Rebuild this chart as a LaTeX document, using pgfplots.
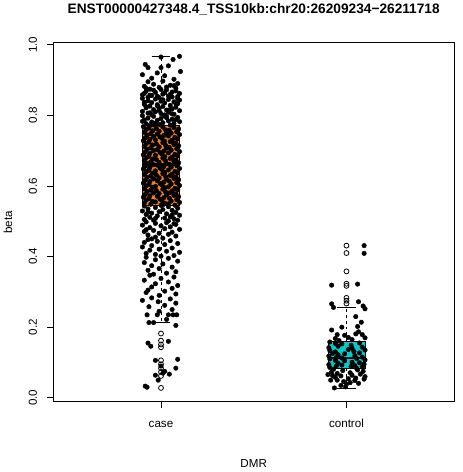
\documentclass[border=0pt]{standalone}
\usepackage{fontspec}
\setmainfont{Liberation Sans}
\usepackage{pgfplots}
\pgfplotsset{compat=1.18}
\usepackage{pgfplotstable}
\definecolor{boxorange}{RGB}{248,128,24}
\definecolor{boxcyan}{RGB}{0,205,205}

% jittered case points
\pgfplotstableread{
x y
1.00 0.965
1.10 0.967
1.065 0.958
0.915 0.944
0.93 0.935
1.00 0.935
1.105 0.924
1.04 0.94
0.98 0.92
0.90 0.915
1.02 0.912
0.95 0.905
1.07 0.902
0.93 0.895
1.01 0.897
1.09 0.89
0.96 0.888
1.05 0.885
0.91 0.882
0.99 0.879
1.08 0.877
0.94 0.874
1.03 0.872
0.92 0.868
1.06 0.866
0.97 0.865
1.10 0.862
1.01 0.86
0.90 0.858
0.95 0.856
1.04 0.855
1.09 0.853
0.93 0.851
0.99 0.85
1.07 0.884
0.96 0.871
1.02 0.864
0.92 0.876
1.05 0.859
0.98 0.854
1.08 0.869
0.91 0.862
1.00 0.873
1.03 0.88
0.94 0.857
1.06 0.852
0.90 0.848
0.97 0.846
1.04 0.845
1.10 0.843
0.93 0.841
1.00 0.84
1.07 0.838
0.95 0.836
1.02 0.835
1.09 0.833
0.91 0.831
0.98 0.83
1.05 0.828
0.94 0.826
1.01 0.825
1.08 0.823
0.92 0.821
0.99 0.82
1.06 0.818
0.96 0.816
1.03 0.815
1.10 0.813
0.90 0.811
0.97 0.81
1.04 0.808
0.93 0.806
1.00 0.805
1.07 0.803
0.95 0.802
1.02 0.801
1.09 0.847
0.91 0.837
0.98 0.827
1.05 0.817
0.94 0.807
1.01 0.844
1.08 0.834
0.92 0.824
0.99 0.814
1.06 0.804
0.90 0.799
0.96 0.797
1.03 0.796
1.09 0.794
0.93 0.792
1.00 0.791
1.06 0.789
0.91 0.787
0.98 0.786
1.04 0.784
1.10 0.782
0.95 0.781
1.01 0.779
1.07 0.777
0.92 0.776
0.99 0.774
1.05 0.772
0.94 0.771
1.02 0.798
1.08 0.788
0.97 0.778
0.90 0.783
1.03 0.793
0.96 0.773
0.905 0.768
1.01 0.7667
1.07 0.7653
0.935 0.764
0.975 0.7627
1.095 0.7613
0.92 0.760
1.025 0.7587
1.045 0.7573
0.955 0.756
0.99 0.7547
1.085 0.7533
0.91 0.752
1.03 0.7507
1.055 0.7493
0.945 0.748
0.98 0.7467
1.10 0.7453
0.925 0.744
1.015 0.7427
1.04 0.7413
0.96 0.740
0.995 0.7387
1.075 0.7373
0.915 0.736
1.005 0.7347
1.09 0.7333
0.94 0.732
0.97 0.7307
1.06 0.7293
0.905 0.728
1.02 0.7267
1.05 0.7253
0.935 0.724
1.01 0.7227
1.08 0.7213
0.92 0.720
0.975 0.7187
1.07 0.7173
0.955 0.716
1.025 0.7147
1.095 0.7133
0.91 0.712
0.99 0.7107
1.045 0.7093
0.945 0.708
1.03 0.7067
1.085 0.7053
0.925 0.704
0.98 0.7027
1.055 0.7013
0.96 0.700
1.015 0.6987
1.10 0.6973
0.915 0.696
0.995 0.6947
1.04 0.6933
0.94 0.692
1.005 0.6907
1.075 0.6893
0.905 0.688
0.97 0.6867
1.09 0.6853
0.935 0.684
1.02 0.6827
1.06 0.6813
0.92 0.680
1.01 0.6787
1.05 0.6773
0.955 0.676
0.975 0.6747
1.08 0.6733
0.91 0.672
1.025 0.6707
1.07 0.6693
0.945 0.668
0.99 0.6667
1.095 0.6653
0.925 0.664
1.03 0.6627
1.045 0.6613
0.96 0.660
0.98 0.6587
1.085 0.6573
0.915 0.656
1.015 0.6547
1.055 0.6533
0.94 0.652
0.995 0.6507
1.10 0.6493
0.905 0.648
1.005 0.6467
1.04 0.6453
0.935 0.644
0.97 0.6427
1.075 0.6413
0.92 0.640
1.02 0.6387
1.09 0.6373
0.955 0.636
1.01 0.6347
1.06 0.6333
0.91 0.632
0.975 0.6307
1.05 0.6293
0.945 0.628
1.025 0.6267
1.08 0.6253
0.925 0.624
0.99 0.6227
1.07 0.6213
0.96 0.620
1.03 0.6187
1.095 0.6173
0.915 0.616
0.98 0.6147
1.045 0.6133
0.94 0.612
1.015 0.6107
1.085 0.6093
0.905 0.608
0.995 0.6067
1.055 0.6053
0.935 0.604
1.005 0.6027
1.10 0.6013
0.92 0.600
0.97 0.5987
1.04 0.5973
0.955 0.596
1.02 0.5947
1.075 0.5933
0.91 0.592
1.01 0.5907
1.09 0.5893
0.945 0.588
0.975 0.5867
1.06 0.5853
0.925 0.584
1.025 0.5827
1.05 0.5813
0.96 0.580
0.99 0.5787
1.08 0.5773
0.915 0.576
1.03 0.5747
1.07 0.5733
0.94 0.572
0.98 0.5707
1.095 0.5693
0.905 0.568
1.015 0.5667
1.045 0.5653
0.935 0.564
0.995 0.5627
1.085 0.5613
0.92 0.560
1.005 0.5587
1.055 0.5573
0.955 0.556
0.97 0.5547
1.10 0.5533
0.91 0.552
1.02 0.5507
1.04 0.5493
0.945 0.548
1.01 0.5467
1.075 0.5453
0.91 0.543
1.04 0.541
0.97 0.539
1.09 0.537
0.93 0.535
1.01 0.533
1.06 0.531
0.90 0.529
0.99 0.527
1.08 0.525
0.95 0.523
1.03 0.521
0.92 0.519
1.10 0.517
0.98 0.515
1.05 0.513
0.94 0.511
1.02 0.509
1.07 0.507
0.91 0.505
0.96 0.503
1.04 0.501
1.00 0.545
0.93 0.526
1.06 0.518
0.97 0.508
1.09 0.503
0.92 0.498
1.03 0.496
0.97 0.494
1.08 0.491
0.90 0.489
1.00 0.487
1.05 0.484
0.94 0.482
1.02 0.479
1.10 0.477
0.96 0.474
0.91 0.471
1.06 0.469
0.99 0.466
1.04 0.463
0.93 0.461
1.08 0.458
0.97 0.455
1.01 0.452
0.95 0.45
1.07 0.493
0.92 0.476
0.93 0.448
1.05 0.445
0.98 0.443
0.91 0.44
1.09 0.437
1.02 0.434
0.95 0.431
0.90 0.427
1.06 0.424
0.99 0.421
0.94 0.418
1.03 0.415
1.10 0.412
0.92 0.409
0.97 0.406
1.07 0.403
1.00 0.401
0.92 0.398
1.04 0.395
0.97 0.391
1.09 0.387
0.91 0.383
1.01 0.379
0.95 0.374
1.06 0.37
0.99 0.366
0.93 0.361
1.08 0.357
1.03 0.353
0.96 0.35
0.94 0.347
1.07 0.342
1.00 0.338
0.91 0.333
1.04 0.328
0.97 0.323
1.09 0.318
0.95 0.314
1.06 0.31
0.93 0.305
1.02 0.302
0.92 0.298
1.08 0.294
0.99 0.29
0.95 0.283
1.05 0.28
0.90 0.276
0.985 0.272
1.08 0.268
1.02 0.262
0.935 0.258
0.99 0.245
1.06 0.25
0.925 0.235
0.98 0.235
1.04 0.235
1.065 0.235
1.085 0.235
1.03 0.222
0.935 0.213
0.96 0.213
1.08 0.205
0.93 0.155
0.945 0.146
1.04 0.16
0.97 0.106
1.09 0.109
1.08 0.084
0.97 0.064
0.985 0.05
1.01 0.07
1.045 0.067
0.925 0.03
0.915 0.033
1.00 0.09
1.02 0.075
}\casepts

% jittered control points
\pgfplotstableread{
x y
2.095 0.431
2.095 0.409
1.92 0.319
2.06 0.322
1.92 0.266
2.065 0.272
2.09 0.26
1.93 0.256
2.10 0.252
2.05 0.23
2.06 0.202
1.95 0.179
1.99 0.177
2.05 0.181
2.065 0.187
2.085 0.179
2.03 0.165
1.92 0.192
2.08 0.214
1.975 0.2
2.01 0.171
1.94 0.168
2.10 0.17
1.96 0.162
1.91 0.158
2.07 0.1553
1.94 0.154
1.975 0.1527
2.025 0.1487
1.955 0.146
2.085 0.1433
1.905 0.142
2.03 0.1407
2.01 0.1367
2.10 0.1353
1.91 0.134
2.04 0.1313
1.94 0.130
2.07 0.1273
1.925 0.126
1.99 0.1247
1.955 0.122
2.045 0.1193
1.905 0.118
2.085 0.1153
1.945 0.114
1.975 0.1127
2.055 0.1113
1.91 0.110
2.10 0.1073
1.94 0.106
1.99 0.1047
2.03 0.1007
2.07 0.0993
1.955 0.098
2.095 0.0953
1.905 0.094
1.975 0.0927
2.045 0.0913
1.945 0.090
2.025 0.0887
2.085 0.0873
1.91 0.086
2.055 0.0833
1.93 0.081
2.06 0.079
1.98 0.077
2.09 0.075
1.92 0.073
2.02 0.071
1.95 0.069
2.075 0.067
2.03 0.064
1.90 0.066
1.97 0.062
2.10 0.06
1.94 0.058
2.05 0.056
2.01 0.054
2.095 0.053
1.915 0.05
1.95 0.05
2.045 0.049
1.985 0.046
2.02 0.043
2.00 0.039
1.97 0.035
1.995 0.031
1.935 0.028
2.065 0.041
1.925 0.063
}\controlpts

\begin{document}
\begin{tikzpicture}
\begin{axis}[
  scale only axis, width=405bp, height=363bp,
  xmin=0.42, xmax=2.58, ymin=-0.0112, ymax=1.0056,
  xtick={1,2}, xticklabels={case,control},
  ytick={0,0.2,0.4,0.6,0.8,1},
  /pgf/number format/fixed, /pgf/number format/fixed zerofill, /pgf/number format/precision=1,
  /pgf/number format/assume math mode=true,
  tick pos=left, tick align=outside, major tick length=6.5bp,
  tick style={black, line width=0.8bp},
  axis line style={line width=0.8bp},
  tick label style={font=\fontsize{11.8}{14}\selectfont},
  yticklabel style={rotate=90, anchor=south},
  xticklabel style={text height=8.6bp, text depth=0bp},
  yticklabel shift=6.5bp, xticklabel shift=7bp,
  label style={font=\fontsize{11.8}{14}\selectfont},
  xlabel={DMR}, ylabel={beta},
  xlabel style={at={(axis description cs:0.5,-0.1708)}, anchor=center},
  ylabel style={at={(axis description cs:-0.1136,0.5)}, anchor=center},
  title={ENST00000427348.4\_TSS10kb:chr20:26209234−26211718},
  title style={font=\bfseries\fontsize{13.9}{16}\selectfont, at={(axis description cs:0.5,1.0771)}, anchor=center},
  clip=false,
]
% case box
\addplot[fill=boxorange, draw=black, line width=0.8bp] coordinates {(0.9,0.545) (1.1,0.545) (1.1,0.77) (0.9,0.77)} -- cycle;
\addplot[black, line width=2.5bp] coordinates {(0.9,0.66) (1.1,0.66)};
\addplot[black, dashed, line width=0.8bp] coordinates {(1,0.77) (1,0.967)};
\addplot[black, dashed, line width=0.8bp] coordinates {(1,0.545) (1,0.213)};
\addplot[black, line width=0.8bp] coordinates {(0.95,0.967) (1.05,0.967)};
\addplot[black, line width=0.8bp] coordinates {(0.95,0.213) (1.05,0.213)};
\addplot[only marks, mark=o, mark size=2.5bp, mark options={line width=0.8bp, black}] coordinates {(1,0.182) (1,0.162) (1,0.151) (1,0.143) (1,0.106) (1,0.095) (1,0.084) (1,0.073) (1,0.062) (1,0.028)};
% control box
\addplot[fill=boxcyan, draw=black, line width=0.8bp] coordinates {(1.9,0.084) (2.1,0.084) (2.1,0.16) (1.9,0.16)} -- cycle;
\addplot[black, line width=2.5bp] coordinates {(1.9,0.113) (2.1,0.113)};
\addplot[black, dashed, line width=0.8bp] coordinates {(2,0.16) (2,0.255)};
\addplot[black, dashed, line width=0.8bp] coordinates {(2,0.084) (2,0.028)};
\addplot[black, line width=0.8bp] coordinates {(1.95,0.255) (2.05,0.255)};
\addplot[black, line width=0.8bp] coordinates {(1.95,0.028) (2.05,0.028)};
\addplot[only marks, mark=o, mark size=2.5bp, mark options={line width=0.8bp, black}] coordinates {(2,0.431) (2,0.41) (2,0.358) (2,0.323) (2,0.317) (2,0.283) (2,0.275) (2,0.267)};
% jittered points
\addplot[only marks, mark=*, mark size=2.3bp, mark options={black, draw=black, fill=black, line width=0.4bp}] table {\casepts};
\addplot[only marks, mark=*, mark size=2.3bp, mark options={black, draw=black, fill=black, line width=0.4bp}] table {\controlpts};
\end{axis}
\path ([shift={(-54bp,-71bp)}]current axis.south west) rectangle ([shift={(9bp,38bp)}]current axis.north east);
\end{tikzpicture}
\end{document}
